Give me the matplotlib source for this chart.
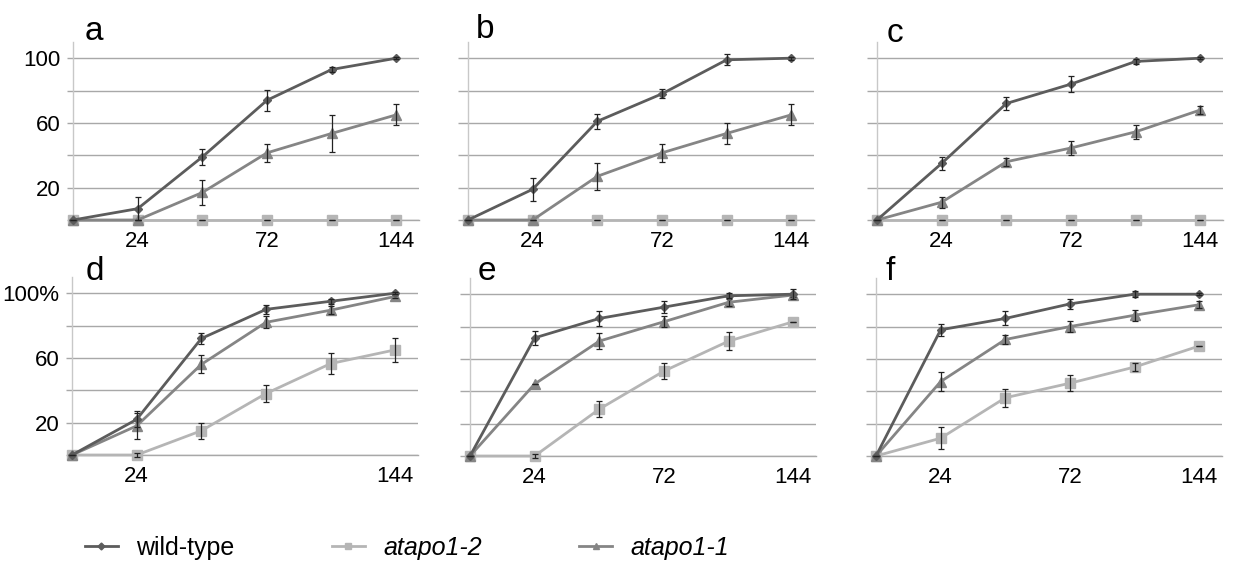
import matplotlib
matplotlib.use("Agg")
import matplotlib.pyplot as plt
from matplotlib.lines import Line2D

plt.rcParams["font.family"] = ["Liberation Sans", "DejaVu Sans"]

# ── Datos ─────────────────────────────────────────────────────────────────────
HOURS = ["0", "24", "48", "72", "96", "144"]
PANELS = ["a", "b", "c", "d", "e", "f"]

WT = {
    "a": [0, 7, 39, 74, 93, 100],
    "b": [0, 19, 61, 78, 99, 100],
    "c": [0, 35, 72, 84, 98, 100],
    "d": [0, 22, 72, 90, 95, 100],
    "e": [0, 73, 85, 92, 99, 100],
    "f": [0, 78, 85, 94, 100, 100],
}
WT_ERR = {
    "a": [0, 7, 5, 6.5, 1.5, 0.5],
    "b": [0, 7, 4.8, 2.9, 3.3, 1],
    "c": [0, 3.8, 4.2, 4.7, 1.5, 0.5],
    "d": [0, 5, 3.5, 2.8, 1.5, 0.5],
    "e": [0, 4.4, 4.8, 3.5, 1.5, 3],
    "f": [0, 3.6, 4.3, 2.9, 1.7, 0.5],
}
APO11 = {
    "a": [0, 0, 17, 41.5, 53.5, 65],
    "b": [0, 0, 27, 41.5, 53.5, 65],
    "c": [0, 11, 36, 44.5, 54.5, 68],
    "d": [0, 18, 56, 82, 89.5, 98],
    "e": [0, 44.5, 71, 83, 95, 99.5],
    "f": [0, 46, 72, 80, 87, 93.5],
}
APO11_ERR = {
    "a": [0, 0, 8, 5.7, 11.3, 6.4],
    "b": [0, 0, 8.4, 5.7, 6.4, 6.6],
    "c": [0, 3.5, 2.6, 4.4, 4.2, 2.5],
    "d": [0, 8, 5.6, 3.6, 2.4, 1],
    "e": [0, 0, 4.9, 3.4, 2.3, 1.5],
    "f": [0, 5.8, 2.6, 3.6, 3.4, 2],
}
APO12 = {
    "a": [0, 0, 0, 0, 0, 0],
    "b": [0, 0, 0, 0, 0, 0],
    "c": [0, 0, 0, 0, 0, 0],
    "d": [0, 0, 15, 38, 56.5, 65],
    "e": [0, 0, 29, 52.5, 71, 83],
    "f": [0, 11, 36, 45, 55, 68],
}
APO12_ERR = {
    "a": [0, 0, 0, 0, 0, 0],
    "b": [0, 0, 0, 0, 0, 0],
    "c": [0, 0, 0, 0, 0, 0],
    "d": [0, 1, 5, 5.2, 6.5, 7.6],
    "e": [0, 1, 4.7, 5.2, 5.6, 0],
    "f": [0, 6.9, 5.7, 4.8, 2.7, 0],
}

C_WT = "#5c5c5c"
C_11 = "#858585"
C_12 = "#b5b5b5"
C_GRID = "#a8a8a8"

# ── Figura ────────────────────────────────────────────────────────────────────
W, H = 1233, 564
fig = plt.figure(figsize=(W / 100, H / 100), dpi=100)
fig.patch.set_facecolor("white")

# posición en píxeles: (eje y, línea del cero)
POS = {
    "a": (73, 220), "b": (468, 220), "c": (877, 220),
    "d": (72, 455), "e": (470, 456), "f": (876, 456),
}
LETTER = {
    "a": (94, 32), "b": (485, 30), "c": (895, 33),
    "d": (95, 271), "e": (487, 271), "f": (890, 271),
}
AX_W, AX_H = 346, 178
x = list(range(len(HOURS)))

for p in PANELS:
    x0, y0 = POS[p]
    ax = fig.add_axes([x0 / W, (H - y0) / H, AX_W / W, AX_H / H])
    ax.set_xlim(0, 5.35)
    ax.set_ylim(0, 110)

    for s in ["top", "right"]:
        ax.spines[s].set_visible(False)
    ax.spines["left"].set_color("#c8c8c8")
    ax.spines["bottom"].set_color(C_GRID)
    ax.spines["left"].set_linewidth(1)
    ax.spines["bottom"].set_linewidth(1)

    ax.set_yticks([0, 20, 40, 60, 80, 100])
    ax.grid(axis="y", color=C_GRID, lw=1)
    ax.set_axisbelow(True)
    if p == "a":
        ax.set_yticklabels(["", "20", "", "60", "", "100"])
    elif p == "d":
        ax.set_yticklabels(["", "20", "", "60", "", "100%"])
    else:
        ax.set_yticklabels([])
    tick_len = 4 if p in ("a", "d") else 7
    ax.tick_params(axis="y", length=tick_len, color=C_GRID, width=1,
                   labelsize=16, pad=5)

    if p == "d":
        ax.set_xticks([1, 5], ["24", "144"])
    else:
        ax.set_xticks([1, 3, 5], ["24", "72", "144"])
    ax.tick_params(axis="x", length=0, labelsize=16, pad=8)

    series = [
        (APO12[p], APO12_ERR[p], C_12, "s", 6.5, 3),
        (APO11[p], APO11_ERR[p], C_11, "^", 7, 4),
        (WT[p], WT_ERR[p], C_WT, "D", 4.5, 5),
    ]
    for vals, err, col, mk, ms, z in series:
        ax.plot(x, vals, color=col, lw=2, marker=mk, ms=ms, mec=col,
                clip_on=False, zorder=z)
        ax.errorbar(x, vals, yerr=err, fmt="none", ecolor="#222222",
                    elinewidth=0.9, capsize=2.5, capthick=0.9,
                    clip_on=False, zorder=z + 0.5)

    lx, ly = LETTER[p]
    fig.text(lx / W, 1 - ly / H, p, fontsize=24, ha="center", va="center")

# ── Leyenda ───────────────────────────────────────────────────────────────────
handles = [
    Line2D([], [], color=C_WT, lw=2, marker="D", ms=3.5),
    Line2D([], [], color=C_12, lw=2, marker="s", ms=5),
    Line2D([], [], color=C_11, lw=2, marker="^", ms=5),
]
labels = ["wild-type", "atapo1-2", "atapo1-1"]
leg = fig.legend(handles, labels, loc="center left",
                 bbox_to_anchor=(85 / W, 1 - 548 / H), ncol=3, frameon=False,
                 fontsize=18, handlelength=1.3, handletextpad=0.75,
                 columnspacing=3.9, borderaxespad=0, borderpad=0)
for t in leg.get_texts()[1:]:
    t.set_style("italic")

fig.savefig("out.png", dpi=100, facecolor="white")
